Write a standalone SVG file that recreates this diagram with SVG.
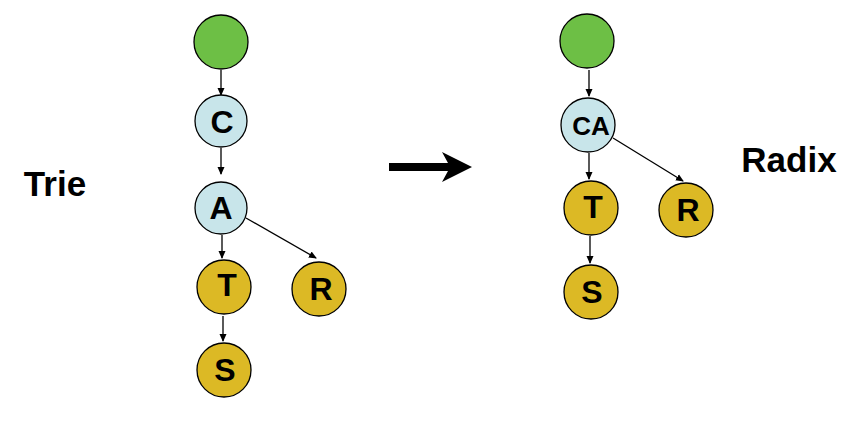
<svg xmlns="http://www.w3.org/2000/svg" width="860" height="427" viewBox="0 0 860 427">
<style>
.n{stroke:#000;stroke-width:1.3}
.g{fill:#6DBF45}
.b{fill:#C8E5EA}
.y{fill:#DCB925}
.t{font-family:"Liberation Sans",Arial,sans-serif;font-weight:bold;fill:#000;text-anchor:middle}
.l{font-size:32px}
.e{stroke:#000;stroke-width:1.3;fill:none;marker-end:url(#ah)}
</style>
<defs>
<marker id="ah" markerWidth="8" markerHeight="8" refX="7" refY="4" orient="auto" markerUnits="userSpaceOnUse">
<path d="M0,0.5 L8,4 L0,7.5 Z" fill="#000"/>
</marker>
</defs>
<rect width="860" height="427" fill="#fff"/>
<g id="connectors">
<line class="e" x1="221" y1="70" x2="221" y2="95"/>
<line class="e" x1="221" y1="148" x2="221" y2="174"/>
<line class="e" x1="222" y1="235" x2="222" y2="258"/>
<line class="e" x1="223" y1="316" x2="223" y2="341"/>
<line class="e" x1="246" y1="218" x2="316" y2="258"/>
<line class="e" x1="589" y1="70" x2="589" y2="96"/>
<line class="e" x1="589" y1="153" x2="589" y2="179"/>
<line class="e" x1="590" y1="236" x2="590" y2="263"/>
<line class="e" x1="613" y1="138" x2="683" y2="181"/>
<polygon points="389,163 448,163 442,152 472,167 442,182 448,171 389,171" fill="#000"/>
</g>
<g id="trie-root"><circle class="n g" cx="221" cy="42" r="27"/></g>
<g id="trie-C"><circle class="n b" cx="221" cy="121" r="26"/><text class="t l" x="222" y="133">C</text></g>
<g id="trie-A"><circle class="n b" cx="221" cy="208" r="26"/><text class="t l" x="221" y="219">A</text></g>
<g id="trie-T"><circle class="n y" cx="224" cy="287" r="27"/><text class="t l" x="227" y="296">T</text></g>
<g id="trie-S"><circle class="n y" cx="224" cy="370" r="27"/><text class="t l" x="225" y="381">S</text></g>
<g id="trie-R"><circle class="n y" cx="319" cy="289" r="27"/><text class="t l" x="321" y="300">R</text></g>
<g id="label-trie"><text class="t" x="55" y="196" font-size="35">Trie</text></g>
<g id="radix-root"><circle class="n g" cx="587" cy="41" r="27"/></g>
<g id="radix-CA"><circle class="n b" cx="588" cy="125" r="27"/><text class="t" x="591" y="135" font-size="26">CA</text></g>
<g id="radix-T"><circle class="n y" cx="591" cy="208" r="27"/><text class="t l" x="593" y="218">T</text></g>
<g id="radix-S"><circle class="n y" cx="591" cy="292" r="27"/><text class="t l" x="592" y="303">S</text></g>
<g id="radix-R"><circle class="n y" cx="686" cy="210" r="27"/><text class="t l" x="688" y="221">R</text></g>
<g id="label-radix"><text class="t" x="789" y="172" font-size="35">Radix</text></g>
</svg>
